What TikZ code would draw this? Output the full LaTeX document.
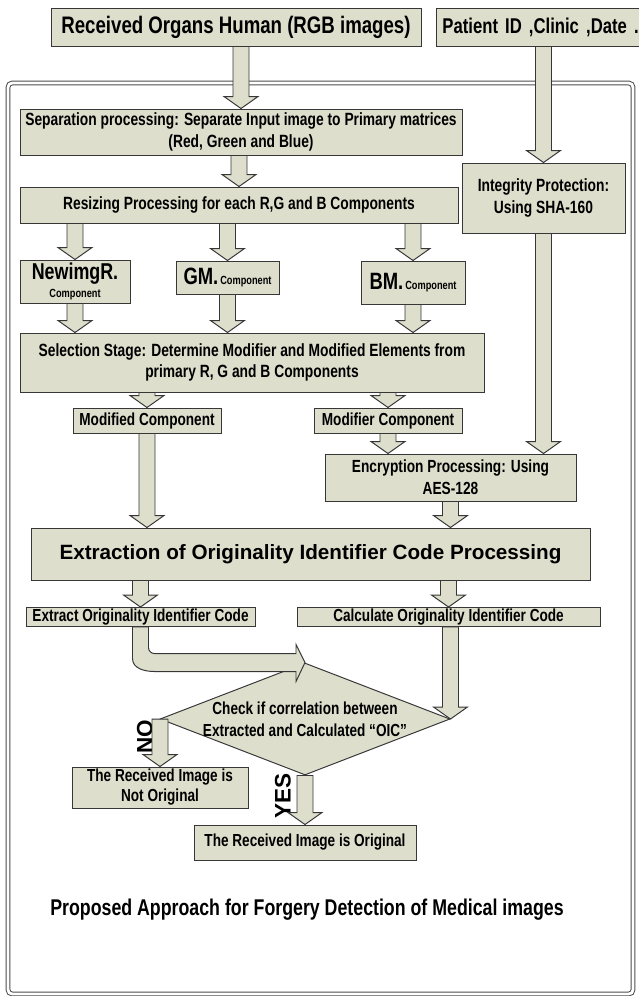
\documentclass[tikz,border=0pt]{standalone}
\usepackage{fontspec}
\setmainfont{Liberation Sans}
\newfontfamily\narrowfont[FakeStretch=0.78]{Liberation Sans}
\usepackage{tikz}
\usetikzlibrary{calc}
\usetikzlibrary{shapes.geometric}

\definecolor{boxfill}{RGB}{221,223,204}
\definecolor{boxline}{RGB}{55,55,55}
\newcommand{\pu}{0.025cm}

% block arrow from the bottom of #1 down to #2 (x of #2)
\newcommand{\blockarrow}[2]{%
  \path[conn] let \p1=(#1), \p2=(#2) in
    ({\x2-8*\pu},\y1) -- ({\x2-8*\pu},{\y2+12*\pu}) -- ({\x2-17*\pu},{\y2+12*\pu})
    -- (\x2,\y2) -- ({\x2+17*\pu},{\y2+12*\pu}) -- ({\x2+8*\pu},{\y2+12*\pu})
    -- ({\x2+8*\pu},\y1) -- cycle;}

\begin{document}
\begin{tikzpicture}[
    x=\pu, y=-\pu,
    box/.style={
        draw=boxline,
        fill=boxfill,
        line width=0.7pt,
        inner sep=0pt,
        align=center,
        font=\narrowfont\bfseries\fontsize{12.6}{15.5}\selectfont
    },
    big/.style={font=\narrowfont\bfseries\fontsize{17}{19}\selectfont},
    mid/.style={font=\narrowfont\bfseries\fontsize{12.4}{15.5}\selectfont},
    diam/.style={
        shape=diamond,
        draw=boxline,
        fill=boxfill,
        line width=0.7pt,
        inner sep=0pt
    },
    conn/.style={
        draw=boxline,
        fill=boxfill,
        line width=0.7pt
    },
    frame/.style={
        draw=gray!60!black,
        line width=0.7pt,
        double=white,
        double distance=2pt,
        rounded corners=3pt
    },
    side/.style={
        rotate=90,
        font=\bfseries\fontsize{16}{16}\selectfont
    }
]
\clip (0,0) rectangle (639,996);

% --- Frame
\draw[frame] (8,83) rectangle (633,994);

% --- Inputs
\node[box, big, minimum width=370*\pu, minimum height=38*\pu] (organs) at (236,27)
    {Received Organs Human (RGB images)};
\node[box, anchor=west, font=\narrowfont\bfseries\fontsize{15.2}{17}\selectfont,
      minimum width=230*\pu, minimum height=38*\pu,
      text width=218*\pu, inner xsep=6*\pu, align=left] (patient) at (436,27)
    {Patient ID ,Clinic ,Date .};

% --- Left column
\node[box, minimum width=442*\pu, minimum height=46*\pu] (separate) at (241,132)
    {Separation processing: Separate Input image to Primary matrices\\(Red, Green and Blue)};
\node[box, minimum width=438*\pu, minimum height=36*\pu] (resize) at (239,205)
    {Resizing Processing for each R,G and B Components};

% --- Right column
\node[box, minimum width=163*\pu, minimum height=70*\pu] (integrity) at (543.5,198)
    {Integrity Protection:\\Using SHA-160};

% --- Components
\node[box, minimum width=110*\pu, minimum height=43*\pu] (compR) at (75,281.5)
    {{\fontsize{16.3}{17}\selectfont NewimgR.}\\[-3pt]{\fontsize{8.4}{9}\selectfont Component}};
\node[box, minimum width=103*\pu, minimum height=33*\pu] (compG) at (227.5,277.5)
    {{\fontsize{16.8}{17}\selectfont GM.}{\fontsize{8.4}{9}\selectfont\,Component}};
\node[box, minimum width=104*\pu, minimum height=43*\pu] (compB) at (413,282.5)
    {{\fontsize{16.8}{17}\selectfont BM.}{\fontsize{8.4}{9}\selectfont\,Component}};

% --- Selection
\node[box, minimum width=464*\pu, minimum height=59*\pu] (select) at (252,362.5)
    {Selection Stage: Determine Modifier and Modified Elements from\\primary R, G and B Components};
\node[box, mid, minimum width=148*\pu, minimum height=25*\pu] (modified) at (147,420.5)
    {Modified Component};
\node[box, mid, minimum width=148*\pu, minimum height=25*\pu] (modifier) at (388,420.5)
    {Modifier Component};
\node[box, font=\narrowfont\bfseries\fontsize{12.5}{15.6}\selectfont,
      minimum width=251*\pu, minimum height=47*\pu] (encrypt) at (450.5,477.5)
    {Encryption Processing: Using\\AES-128};

% --- Extraction
\node[box, font=\bfseries\fontsize{14.7}{16}\selectfont,
      minimum width=559*\pu, minimum height=52*\pu] (extract) at (310.5,554)
    {Extraction of Originality Identifier Code Processing};
\node[box, mid, minimum width=229*\pu, minimum height=19*\pu] (eoic) at (140.5,617)
    {Extract Originality Identifier Code};
\node[box, mid, minimum width=303*\pu, minimum height=19*\pu] (coic) at (448.5,617)
    {Calculate Originality Identifier Code};

% --- Decision
\node[diam, minimum width=290*\pu, minimum height=112*\pu] (diam) at (305,719) {};
\node[mid, align=center, inner sep=0pt] (check) at (diam.center)
    {Check if correlation between\\Extracted and Calculated “OIC”};
\node[box, mid, font=\narrowfont\bfseries\fontsize{12.4}{14.2}\selectfont,
      minimum width=176*\pu, minimum height=41*\pu] (notorig) at (160,787.5)
    {The Received Image is\\Not Original};
\node[box, mid, minimum width=222*\pu, minimum height=35*\pu] (orig) at (305,842.5)
    {The Received Image is Original};
\node[side] (lblno) at (145,737) {NO};
\node[side] (lblyes) at (283,796) {YES};

% --- Title
\node[font=\narrowfont\bfseries\fontsize{16.2}{18}\selectfont] (title) at (307,910)
    {Proposed Approach for Forgery Detection of Medical images};

% --- Connections
\blockarrow{organs.south}{separate.north}
\blockarrow{patient.south}{integrity.north}
\blockarrow{separate.south}{resize.north}
\blockarrow{resize.south}{compR.north}
\blockarrow{resize.south}{compG.north}
\blockarrow{resize.south}{compB.north}
\blockarrow{compR.south}{compR.south |- select.north}
\blockarrow{compG.south}{compG.south |- select.north}
\blockarrow{compB.south}{compB.south |- select.north}
\blockarrow{select.south}{modified.north}
\blockarrow{select.south}{modifier.north}
\blockarrow{modifier.south}{modifier.south |- encrypt.north}
\blockarrow{integrity.south}{integrity.south |- encrypt.north}
\blockarrow{modified.south}{modified.south |- extract.north}
\blockarrow{encrypt.south}{encrypt.south |- extract.north}
\blockarrow{extract.south}{eoic.north}
\blockarrow{extract.south}{coic.north}
\blockarrow{coic.south}{diam.east}
\blockarrow{diam.west}{notorig.north}
\blockarrow{diam.south}{orig.north}

% --- Curved arrow into the decision
\path[conn] let \p1=(eoic.south), \p2=(diam.north) in
    ({\x1-8*\pu},\y1) -- ({\x1-8*\pu},{\y2+4*\pu})
    to[out=-90,in=180] ({\x1+14*\pu},{\y2-9*\pu})
    -- ({\x2-9*\pu},{\y2-9*\pu}) -- ({\x2-9*\pu},{\y2-19*\pu}) -- (\x2,\y2)
    -- ({\x2-9*\pu},{\y2+18*\pu}) -- ({\x2-9*\pu},{\y2+9*\pu})
    -- ({\x1+14*\pu},{\y2+9*\pu}) to[out=180,in=-90] ({\x1+8*\pu},{\y2+15*\pu})
    -- ({\x1+8*\pu},\y1) -- cycle;

\end{tikzpicture}
\end{document}
